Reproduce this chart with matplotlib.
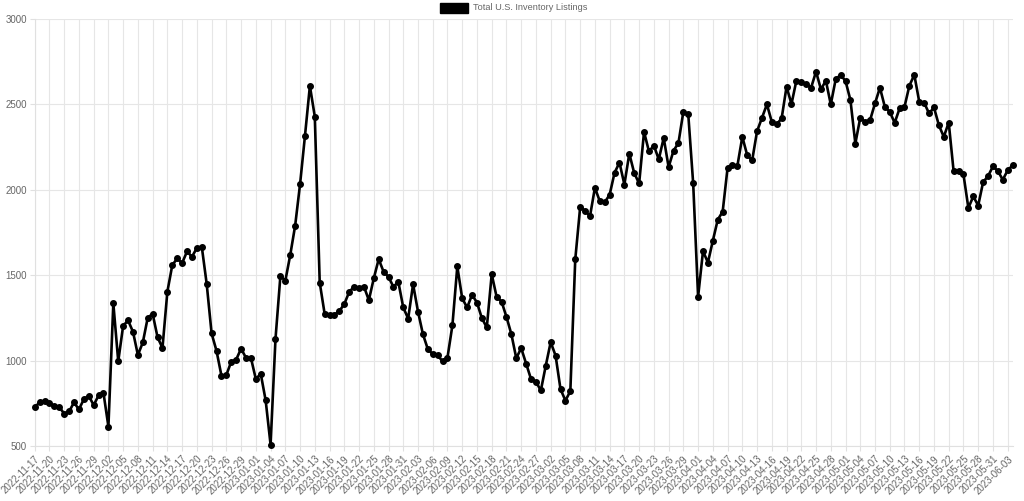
import matplotlib
matplotlib.use("Agg")
import matplotlib.pyplot as plt
from matplotlib.patches import Rectangle
import pandas as pd

series_label = "Total U.S. Inventory Listings"
start_date = "2022-11-17"
listings = [
    727, 755, 765, 749, 735, 727, 690, 702, 755, 714,
    774, 794, 739, 796, 810, 614, 1335, 996, 1204, 1235,
    1169, 1033, 1106, 1251, 1274, 1137, 1074, 1404, 1559, 1598,
    1571, 1639, 1608, 1659, 1667, 1449, 1159, 1057, 912, 916,
    994, 1006, 1070, 1016, 1016, 892, 923, 767, 508, 1127,
    1496, 1467, 1618, 1790, 2033, 2316, 2608, 2429, 1457, 1274,
    1268, 1268, 1290, 1331, 1402, 1433, 1427, 1433, 1354, 1481,
    1594, 1520, 1490, 1432, 1461, 1311, 1246, 1447, 1287, 1155,
    1067, 1038, 1032, 995, 1018, 1206, 1551, 1364, 1311, 1385,
    1340, 1248, 1194, 1506, 1373, 1346, 1256, 1155, 1014, 1073,
    983, 892, 876, 825, 970, 1108, 1029, 833, 766, 821,
    1592, 1898, 1878, 1845, 2012, 1933, 1927, 1971, 2100, 2159,
    2031, 2212, 2098, 2037, 2339, 2225, 2259, 2178, 2304, 2133,
    2229, 2274, 2457, 2441, 2037, 1374, 1641, 1574, 1702, 1825,
    1872, 2129, 2147, 2141, 2310, 2202, 2172, 2343, 2422, 2500,
    2398, 2384, 2418, 2604, 2502, 2639, 2629, 2618, 2598, 2692,
    2588, 2639, 2500, 2647, 2673, 2637, 2525, 2271, 2422, 2398,
    2408, 2506, 2598, 2486, 2457, 2392, 2476, 2486, 2610, 2673,
    2516, 2510, 2447, 2482, 2378, 2310, 2394, 2108, 2108, 2090,
    1894, 1961, 1908, 2045, 2080, 2137, 2110, 2059, 2114, 2143,
]
dates = pd.date_range(start_date, periods=len(listings), freq="D")
date_labels = [d.strftime("%Y-%m-%d") for d in dates]
y_ticks = [500, 1000, 1500, 2000, 2500, 3000]

plt.rcParams["font.family"] = ["Liberation Sans", "DejaVu Sans"]

fig = plt.figure(figsize=(10.24, 5.01), dpi=100)
ax = fig.add_axes([34.7 / 1024, 1 - 446 / 501, (1012.6 - 34.7) / 1024, (446 - 19) / 501])

x = list(range(len(listings)))
ax.plot(x, listings, color="black", linewidth=1.9, marker="o", markersize=4.0,
        markerfacecolor="black", markeredgecolor="black", zorder=3, clip_on=False)

ax.set_xlim(0, len(listings) - 1)
ax.set_ylim(500, 3000)
ax.set_yticks(y_ticks)
ax.set_yticklabels([str(v) for v in y_ticks])
tick_pos = x[::3]
ax.set_xticks(tick_pos)
ax.set_xticklabels([date_labels[i] for i in tick_pos], rotation=45, ha="right",
                   rotation_mode="anchor")

ax.grid(True, color="#e6e6e6", linewidth=0.8)
ax.set_axisbelow(True)
for s in ax.spines.values():
    s.set_visible(False)
ax.spines["left"].set_visible(True)
ax.spines["left"].set_color("#e0e0e0")
ax.spines["bottom"].set_visible(True)
ax.spines["bottom"].set_color("#e0e0e0")
ax.tick_params(axis="both", colors="#e0e0e0", labelcolor="#666666", length=3.6, width=0.8,
               labelsize=7)
ax.tick_params(axis="y", pad=2)
ax.tick_params(axis="x", pad=2)

# Legend
fig.patches.append(Rectangle((440 / 1024, 1 - 13 / 501), 28 / 1024, 10 / 501,
                             transform=fig.transFigure, facecolor="black",
                             edgecolor="black", figure=fig))
fig.text(473 / 1024, 1 - 8 / 501, series_label, fontsize=6.6, color="#666666",
         va="center", ha="left")

fig.savefig("out.png", dpi=100)
